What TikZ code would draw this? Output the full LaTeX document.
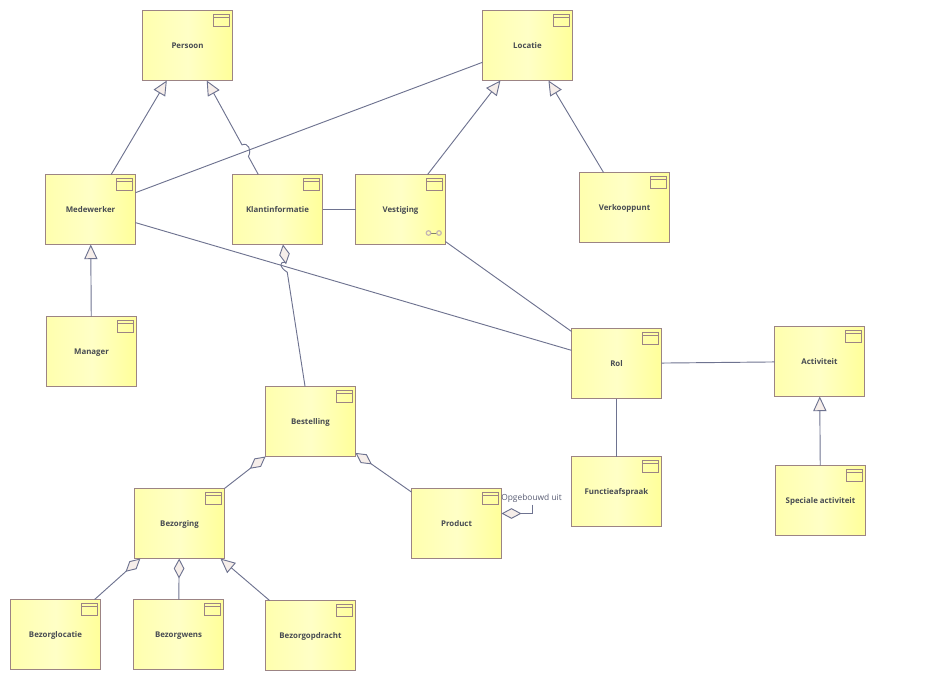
\documentclass[tikz,border=0pt]{standalone}
\usepackage{fontspec}
\setmainfont{Open Sans}
\usetikzlibrary{arrows.meta, calc}
\definecolor{boxline}{HTML}{9C8484}
\definecolor{conline}{HTML}{6E7390}
\definecolor{tipfill}{HTML}{F6EEEA}
\definecolor{boxtext}{HTML}{474B52}
\definecolor{boxleft}{HTML}{FFFFAE}
\definecolor{boxmid}{HTML}{FFFFC6}
\definecolor{boxright}{HTML}{FFFF9A}
\tikzstyle{classbox} = [
    rectangle, draw=boxline, minimum width=67.5pt, minimum height=52.5pt,
    outer sep=0pt, line width=0.6pt, text=boxtext, text height=5pt, text depth=1pt,
    font=\fontsize{5.9pt}{7pt}\selectfont\bfseries,
    left color=boxleft, right color=boxright, middle color=boxmid,
    path picture={
        \draw [boxline, line width=0.6pt]
            ([shift={(-14.25pt,-3pt)}]path picture bounding box.north east)
            rectangle ([shift={(-2.25pt,-12pt)}]path picture bounding box.north east);
        \draw [boxline, line width=0.6pt]
            ([shift={(-14.25pt,-5.25pt)}]path picture bounding box.north east)
            -- ([shift={(-2.25pt,-5.25pt)}]path picture bounding box.north east);
    }
]
\tikzstyle{link} = [draw=conline, line width=0.7pt]
\tikzstyle{isa} = [link, -{Triangle[length=11pt, width=10pt, fill=tipfill]}]
\tikzstyle{part} = [link, -{Diamond[length=15pt, width=8pt, fill=tipfill]}]

\begin{document}
\begin{tikzpicture}[x=0.75pt, y=-0.75pt]
    \useasboundingbox (0,0) rectangle (926,699);

    \node (persoon) [classbox] at (187.5,45.5) {Persoon};
    \node (locatie) [classbox] at (527.5,45.5) {Locatie};
    \node (medewerker) [classbox] at (90.5,209.5) {Medewerker};
    \node (klant) [classbox] at (277.5,209.5) {Klantinformatie};
    \node (vestiging) [classbox] at (400.5,209.5) {Vestiging};
    \node (verkoop) [classbox] at (624.5,207.5) {Verkooppunt};
    \node (manager) [classbox] at (91.5,351.5) {Manager};
    \node (rol) [classbox] at (616.5,363.5) {Rol};
    \node (activiteit) [classbox] at (819.5,361.5) {Activiteit};
    \node (bestelling) [classbox] at (310.5,421.5) {Bestelling};
    \node (functie) [classbox] at (616.5,491.5) {Functieafspraak};
    \node (speciaal) [classbox] at (820.5,500.5) {Speciale activiteit};
    \node (bezorging) [classbox] at (179.5,523.5) {Bezorging};
    \node (product) [classbox] at (456.5,523.5) {Product};
    \node (locatie2) [classbox] at (55.5,634.5) {Bezorglocatie};
    \node (wens) [classbox] at (178.5,634.5) {Bezorgwens};
    \node (opdracht) [classbox] at (310.5,635.5) {Bezorgopdracht};

    % small link symbol in the box
    \draw [boxtext!70!boxright, line width=0.6pt] (430.5,233) -- (437,233);
    \draw [boxline!60!white, line width=0.9pt] (428.5,233) circle (1.7pt) (439,233) circle (1.7pt);

    \draw [isa] (medewerker) -- (persoon);
    \draw [isa] (vestiging) -- (locatie);
    \draw [isa] (verkoop) -- (locatie);
    \draw [isa] (manager) -- (medewerker);
    \draw [isa] (speciaal) -- (activiteit);
    \draw [isa] (opdracht) -- (bezorging);

    \draw [link] (medewerker) -- (locatie);
    \draw [link] (medewerker) -- (rol);
    \draw [link] (klant) -- (vestiging);
    \draw [link] (vestiging) -- (rol);
    \draw [link] (rol) -- (activiteit);
    \draw [link] (rol) -- (functie);

    % the two line jumps
    \coordinate (jump1a) at ($(klant)!0.323!(persoon)$);
    \coordinate (jump1b) at ($(klant)!0.394!(persoon)$);
    \draw [isa] (klant) -- (jump1a) .. controls (252,150) and (248,142) .. (jump1b) -- (persoon);

    \coordinate (jump2a) at ($(bestelling)!0.704!(klant)$);
    \coordinate (jump2b) at ($(bestelling)!0.75!(klant)$);
    \draw [part] (bestelling) -- (jump2a) .. controls (279,267) and (279,261) .. (jump2b) -- (klant);

    \draw [part] (bezorging) -- (bestelling);
    \draw [part] (product) -- (bestelling);
    \draw [part] (locatie2) -- (bezorging);
    \draw [part] (wens) -- (bezorging);

    \coordinate (loopstart) at ($(product.east)+(31,-10)$);
    \coordinate (loopend) at ($(product.east)+(31,-19)$);
    \draw [part] (loopend) -- (loopstart) -- ($(product.east)+(0,-10)$);
    \node (looplabel) [anchor=west, inner sep=0pt, text=conline!80!black, font=\fontsize{6.3pt}{7pt}\selectfont]
        at (501,498) {Opgebouwd uit};
\end{tikzpicture}
\end{document}
